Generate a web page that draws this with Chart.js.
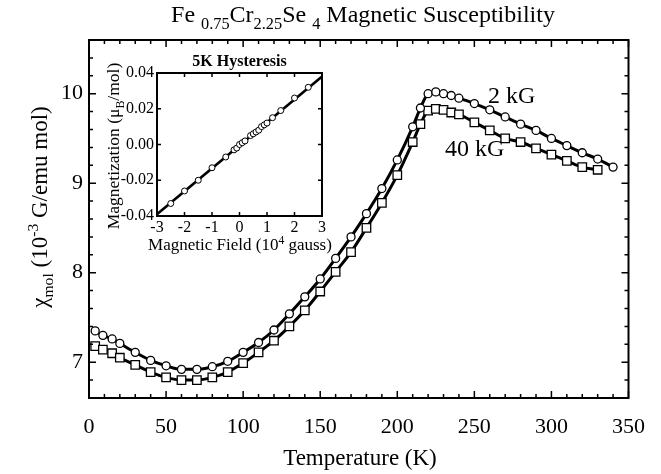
<html>
<head>
    <title>Fe0.75Cr2.25Se4 Magnetic Susceptibility</title>
    <script src="https://cdn.jsdelivr.net/npm/chart.js"></script>
    <style>
        body { margin: 0; background: #fff; }
        #wrap { position: relative; width: 661px; height: 474px; font-family: "Liberation Serif", serif; color: #000; }
        canvas { position: absolute; }
        .lbl { position: absolute; white-space: nowrap; }
        .sub { font-size: 0.68em; vertical-align: -0.4em; }
        .sup { font-size: 0.68em; vertical-align: 0.55em; }
    </style>
</head>

<body>
    <div id="wrap">
        <canvas id="mainChart" width="661" height="474" style="left:0;top:0"></canvas>
        <canvas id="insetChart" width="240" height="190" style="left:100px;top:55px"></canvas>

        <div class="lbl" style="left:89px;top:1px;width:548px;text-align:center;font-size:24px;">
            Fe <span class="sub">0.75</span>Cr<span class="sub">2.25</span>Se <span class="sub">4</span> Magnetic Susceptibility
        </div>
        <div class="lbl" style="left:-117px;top:192px;width:300px;height:30px;line-height:30px;text-align:center;font-size:23px;transform:rotate(-90deg);">
            &chi;<span class="sub">mol</span> (10<span class="sup">-3</span> G/emu mol)
        </div>
        <div class="lbl" style="left:89px;top:445px;width:542px;text-align:center;font-size:23px;">Temperature (K)</div>
        <div class="lbl" style="left:488px;top:82px;font-size:24px;">2 kG</div>
        <div class="lbl" style="left:445px;top:135px;font-size:24px;">40 kG</div>

        <div class="lbl" style="left:157px;top:52px;width:165px;text-align:center;font-size:16px;font-weight:bold;">5K Hysteresis</div>
        <div class="lbl" style="left:13px;top:135px;width:200px;height:22px;line-height:22px;text-align:center;font-size:17.5px;transform:rotate(-90deg);">
            Magnetization (&mu;<span class="sub">B</span>/mol)
        </div>
        <div class="lbl" style="left:140px;top:234px;width:200px;text-align:center;font-size:17px;">
            Magnetic Field (10<span class="sup">4</span> gauss)
        </div>
    </div>

    <script type="text/javascript" charset="utf-8">

        // main plot: susceptibility vs temperature
        var temps2kG = [4, 9, 15, 20, 30, 40, 50, 60, 70, 80, 90, 100, 110, 120, 130, 140, 150, 160, 170, 180,
            190, 200, 210, 215, 220, 225, 230, 235, 240, 250, 260, 270, 280, 290, 300, 310, 320, 330, 340];
        var chi2kG = [7.35, 7.30, 7.26, 7.21, 7.11, 7.02, 6.96, 6.92, 6.92, 6.95, 7.01, 7.11, 7.22, 7.36, 7.54, 7.73, 7.93, 8.16, 8.40, 8.66,
            8.94, 9.26, 9.63, 9.84, 10.00, 10.02, 10.00, 9.98, 9.95, 9.89, 9.82, 9.74, 9.66, 9.59, 9.50, 9.42, 9.34, 9.27, 9.18];

        var temps40kG = [4, 9, 15, 20, 30, 40, 50, 60, 70, 80, 90, 100, 110, 120, 130, 140, 150, 160, 170, 180,
            190, 200, 210, 215, 220, 225, 230, 235, 240, 250, 260, 270, 280, 290, 300, 310, 320, 330];
        var chi40kG = [7.18, 7.14, 7.10, 7.05, 6.97, 6.89, 6.83, 6.80, 6.80, 6.83, 6.89, 6.99, 7.11, 7.24, 7.40, 7.58, 7.79, 8.01, 8.23, 8.50,
            8.78, 9.09, 9.46, 9.66, 9.81, 9.83, 9.82, 9.79, 9.77, 9.68, 9.59, 9.50, 9.46, 9.39, 9.32, 9.25, 9.18, 9.15];

        var xTickLabels = [0, 50, 100, 150, 200, 250, 300, 350];
        var yTickLabels = [7, 8, 9, 10];

        // inset: 5K hysteresis
        var fieldPts = [-2.5, -2.0, -1.5, -1.0, -0.5, -0.2, -0.1, 0.0, 0.1, 0.2, 0.4, 0.5, 0.6, 0.7, 0.8, 0.9, 1.0, 1.2, 1.5, 2.0, 2.5];
        var magPts = [-0.033, -0.026, -0.020, -0.013, -0.007, -0.003, -0.002, 0.000, 0.001, 0.002, 0.005, 0.006, 0.007, 0.008, 0.010, 0.011, 0.012, 0.015, 0.019, 0.026, 0.032];
        var fieldLine = [-3, 3];
        var magLine = [-0.039, 0.038];
        var insetXTicks = [-3, -2, -1, 0, 1, 2, 3];
        var insetYTicks = [-0.04, -0.02, 0.00, 0.02, 0.04];

        function toXY(xs, ys) {
            return xs.map(function (v, i) { return { x: v, y: ys[i] }; });
        }

        Chart.defaults.font.family = '"Liberation Serif", serif';
        Chart.defaults.color = '#000';

        // frame + inward ticks on all four sides
        const frameTicks = {
            id: 'frameTicks',
            afterDatasetsDraw(chart, args, o) {
                const ctx = chart.ctx, a = chart.chartArea;
                const x = chart.scales.x, y = chart.scales.y;
                ctx.save();
                ctx.strokeStyle = '#000';
                ctx.lineWidth = o.tickWidth;
                ctx.beginPath();
                for (var v = o.xMin; v <= o.xMax + 1e-9; v += o.xMinor) {
                    var major = Math.abs(v / o.xMajor - Math.round(v / o.xMajor)) < 1e-6;
                    var len = major ? o.majorLen : o.minorLen;
                    var px = x.getPixelForValue(v);
                    ctx.moveTo(px, a.bottom); ctx.lineTo(px, a.bottom - len);
                    ctx.moveTo(px, a.top); ctx.lineTo(px, a.top + len);
                }
                for (var w = o.yMin; w <= o.yMax + 1e-9; w += o.yMinor) {
                    var majorY = Math.abs(w / o.yMajor - Math.round(w / o.yMajor)) < 1e-6;
                    var lenY = majorY ? o.majorLen : o.minorLen;
                    var py = y.getPixelForValue(w);
                    ctx.moveTo(a.left, py); ctx.lineTo(a.left + lenY, py);
                    ctx.moveTo(a.right, py); ctx.lineTo(a.right - lenY, py);
                }
                ctx.stroke();
                ctx.lineWidth = o.frameWidth;
                ctx.strokeRect(a.left, a.top, a.right - a.left, a.bottom - a.top);
                ctx.restore();
            }
        };

        new Chart(document.getElementById('mainChart'), {
            type: 'line',
            data: {
                datasets: [
                    {
                        label: '2 kG',
                        data: toXY(temps2kG, chi2kG),
                        borderColor: '#000',
                        borderWidth: 3,
                        cubicInterpolationMode: 'monotone',
                        pointStyle: 'circle',
                        pointRadius: 4,
                        pointBorderWidth: 1.3,
                        pointBackgroundColor: '#fff',
                        pointBorderColor: '#000'
                    },
                    {
                        label: '40 kG',
                        data: toXY(temps40kG, chi40kG),
                        borderColor: '#000',
                        borderWidth: 3,
                        cubicInterpolationMode: 'monotone',
                        pointStyle: 'rect',
                        pointRadius: 6,
                        pointBorderWidth: 1.3,
                        pointBackgroundColor: '#fff',
                        pointBorderColor: '#000'
                    }
                ]
            },
            options: {
                responsive: false,
                animation: false,
                devicePixelRatio: 1,
                layout: { padding: { left: 0, top: 40, right: 30, bottom: 0 } },
                plugins: {
                    legend: { display: false },
                    tooltip: { enabled: false },
                    frameTicks: {
                        xMin: 0, xMax: 350, xMinor: 10, xMajor: 50,
                        yMin: 6.6, yMax: 10.6, yMinor: 0.2, yMajor: 1,
                        majorLen: 7, minorLen: 4, tickWidth: 1.5, frameWidth: 2
                    }
                },
                scales: {
                    x: {
                        type: 'linear', min: 0, max: 350,
                        grid: { display: false, drawTicks: false },
                        border: { display: false },
                        afterBuildTicks: function (s) { s.ticks = xTickLabels.map(function (v) { return { value: v }; }); },
                        afterFit: function (s) { s.height = 76; },
                        ticks: { font: { size: 22 }, padding: 16, maxRotation: 0 }
                    },
                    y: {
                        type: 'linear', min: 6.6, max: 10.6,
                        grid: { display: false, drawTicks: false },
                        border: { display: false },
                        afterBuildTicks: function (s) { s.ticks = yTickLabels.map(function (v) { return { value: v }; }); },
                        afterFit: function (s) { s.width = 89; },
                        ticks: { font: { size: 22 }, padding: 6 }
                    }
                }
            },
            plugins: [frameTicks]
        });

        new Chart(document.getElementById('insetChart'), {
            type: 'line',
            data: {
                datasets: [
                    {
                        label: 'data',
                        data: toXY(fieldPts, magPts),
                        showLine: false,
                        pointStyle: 'circle',
                        pointRadius: 3,
                        pointBorderWidth: 1,
                        pointBackgroundColor: '#fff',
                        pointBorderColor: '#000'
                    },
                    {
                        label: 'fit',
                        data: toXY(fieldLine, magLine),
                        borderColor: '#000',
                        borderWidth: 2.5,
                        pointRadius: 0
                    }
                ]
            },
            options: {
                responsive: false,
                animation: false,
                devicePixelRatio: 1,
                layout: { padding: { left: 0, top: 18, right: 18, bottom: 0 } },
                plugins: {
                    legend: { display: false },
                    tooltip: { enabled: false },
                    frameTicks: {
                        xMin: -3, xMax: 3, xMinor: 1, xMajor: 1,
                        yMin: -0.04, yMax: 0.04, yMinor: 0.02, yMajor: 0.02,
                        majorLen: 4, minorLen: 4, tickWidth: 1.5, frameWidth: 2
                    }
                },
                scales: {
                    x: {
                        type: 'linear', min: -3, max: 3,
                        grid: { display: false, drawTicks: false },
                        border: { display: false },
                        afterBuildTicks: function (s) { s.ticks = insetXTicks.map(function (v) { return { value: v }; }); },
                        afterFit: function (s) { s.height = 29; },
                        ticks: { font: { size: 16 }, padding: 2, maxRotation: 0 }
                    },
                    y: {
                        type: 'linear', min: -0.04, max: 0.04,
                        grid: { display: false, drawTicks: false },
                        border: { display: false },
                        afterBuildTicks: function (s) { s.ticks = insetYTicks.map(function (v) { return { value: v }; }); },
                        afterFit: function (s) { s.width = 57; },
                        ticks: { font: { size: 16 }, padding: 3, callback: function (v) { return v.toFixed(2); } }
                    }
                }
            },
            plugins: [frameTicks]
        });

    </script>
</body>

</html>
